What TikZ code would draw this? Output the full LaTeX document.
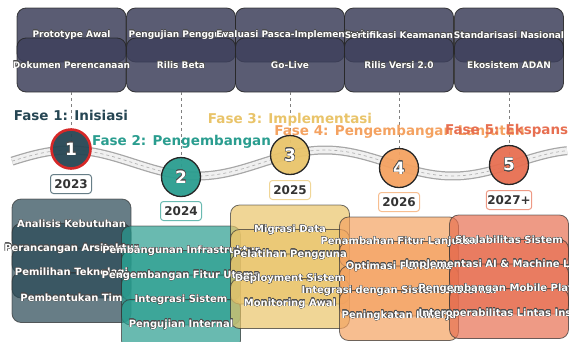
\documentclass[tikz,border=0pt]{standalone}
\usepackage{fontspec}
\setmainfont{DejaVu Sans}
\usepackage[copies]{contour}
\contourlength{0.35pt}
\contournumber{16}
\definecolor{pa}{HTML}{264653}
\definecolor{pb}{HTML}{2A9D8F}
\definecolor{pc}{HTML}{E9C46A}
\definecolor{pd}{HTML}{F4A261}
\definecolor{pe}{HTML}{E76F51}
\definecolor{topc}{HTML}{3D405B}
\definecolor{ringred}{HTML}{D62828}
\newcommand{\ow}[1]{\contour{black!70}{#1}}
\tikzset{
  topbox/.style={draw=black!85, line width=0.8pt, fill=topc, fill opacity=0.85, draw opacity=0.85, rounded corners=9pt, minimum width=109pt, minimum height=54pt, inner sep=0pt},
  toptext/.style={text=white, font=\bfseries\fontsize{9}{10}\selectfont, inner sep=0pt},
  itembox/.style={draw=black!80, line width=0.8pt, fill opacity=0.7, draw opacity=0.7, rounded corners=9pt, minimum width=119pt, minimum height=50pt, inner sep=0pt},
  itemtext/.style={text=white, font=\bfseries\fontsize{10}{12}\selectfont, inner sep=0pt},
  milestone/.style={circle, draw=black!85, line width=1.3pt, minimum size=39pt, inner sep=0pt, fill opacity=0.95, text opacity=1, text=white, font=\bfseries\fontsize{17}{18}\selectfont},
  yearbox/.style={rounded corners=3pt, fill=white, line width=1pt, minimum width=41pt, minimum height=19pt, inner sep=1pt, text=black!80, font=\bfseries\fontsize{12}{13}\selectfont},
  phaselabel/.style={inner sep=0pt, font=\bfseries\fontsize{13.5}{14}\selectfont},
  guide/.style={dashed, gray, line width=0.8pt}
}
\begin{document}
\begin{tikzpicture}[x=1pt, y=-1pt]
\useasboundingbox (0,0) rectangle (569,341);
% road
\draw[gray!70, line width=9pt] plot[domain=12:567, samples=120] (\x, {163-13*cos(((\x-70)/255)*360)});
\draw[gray!12, line width=6.5pt] plot[domain=12:567, samples=120] (\x, {163-13*cos(((\x-70)/255)*360)});
\draw[gray!60, dashed, line width=0.7pt] plot[domain=12:567, samples=120] (\x, {163-13*cos(((\x-70)/255)*360)});
% top boxes
\node[topbox] (t1a) at (71.5,35) {};
\node[topbox] (t1b) at (71.5,65) {};
\node[topbox] (t2a) at (181,35) {};
\node[topbox] (t2b) at (181,65) {};
\node[topbox] (t3a) at (290,35) {};
\node[topbox] (t3b) at (290,65) {};
\node[topbox] (t4a) at (399,35) {};
\node[topbox] (t4b) at (399,65) {};
\node[topbox] (t5a) at (509,35) {};
\node[topbox] (t5b) at (509,65) {};
\node[toptext] (x1a) at (t1a) {\ow{Prototype Awal}};
\node[toptext] (x1b) at (t1b) {\ow{Dokumen Perencanaan}};
\node[toptext] (x2a) at (t2a) {\ow{Pengujian Pengguna}};
\node[toptext] (x2b) at (t2b) {\ow{Rilis Beta}};
\node[toptext] (x3a) at (t3a) {\ow{Evaluasi Pasca-Implementasi}};
\node[toptext] (x3b) at (t3b) {\ow{Go-Live}};
\node[toptext] (x4a) at (t4a) {\ow{Sertifikasi Keamanan}};
\node[toptext] (x4b) at (t4b) {\ow{Rilis Versi 2.0}};
\node[toptext] (x5a) at (t5a) {\ow{Standarisasi Nasional}};
\node[toptext] (x5b) at (t5b) {\ow{Ekosistem ADAN}};
% milestones
\coordinate (m1) at (71,149);
\coordinate (m2) at (181,177);
\coordinate (m3) at (290,155);
\coordinate (m4) at (399,168);
\coordinate (m5) at (509,165);
\draw[guide] (t1b.south -| m1) -- (m1);
\draw[guide] (t2b.south -| m2) -- (m2);
\draw[guide] (t3b.south -| m3) -- (m3);
\draw[guide] (t4b.south -| m4) -- (m4);
\draw[guide] (t5b.south -| m5) -- (m5);
\node[milestone, fill=pa, draw=ringred, line width=2.6pt] (c1) at (m1) {\ow{1}};
\node[milestone, fill=pb] (c2) at (m2) {\ow{2}};
\node[milestone, fill=pc] (c3) at (m3) {\ow{3}};
\node[milestone, fill=pd] (c4) at (m4) {\ow{4}};
\node[milestone, fill=pe] (c5) at (m5) {\ow{5}};
% phase labels
\node[phaselabel, text=pa] (f1) at (71,115) {Fase 1: Inisiasi};
\node[phaselabel, text=pb] (f2) at (181.5,142) {Fase 2: Pengembangan};
\node[phaselabel, text=pc] (f3) at (290,120) {Fase 3: Implementasi};
\node[phaselabel, text=pd] (f4) at (399.5,132) {Fase 4: Pengembangan Lanjutan};
\node[phaselabel, text=pe] (f5) at (509,131) {Fase 5: Ekspansi};
% years
\node[yearbox, draw=pa!70] (y1) at (71,184) {2023};
\node[yearbox, draw=pb!70] (y2) at (181,211) {2024};
\node[yearbox, draw=pc!70] (y3) at (290,190) {2025};
\node[yearbox, draw=pd!70] (y4) at (399,202) {2026};
\node[yearbox, draw=pe!70] (y5) at (509,200) {2027+};
% item boxes
\node[itembox, fill=pa] (b11) at (71.5,224) {};
\node[itembox, fill=pa] (b12) at (71.5,248.5) {};
\node[itembox, fill=pa] (b13) at (71.5,273) {};
\node[itembox, fill=pa] (b14) at (71.5,297.5) {};
\node[itembox, fill=pb] (b21) at (181,251) {};
\node[itembox, fill=pb] (b22) at (181,275.5) {};
\node[itembox, fill=pb] (b23) at (181,300) {};
\node[itembox, fill=pb] (b24) at (181,324.5) {};
\node[itembox, fill=pc] (b31) at (290,230) {};
\node[itembox, fill=pc] (b32) at (290,254.5) {};
\node[itembox, fill=pc] (b33) at (290,279) {};
\node[itembox, fill=pc] (b34) at (290,303.5) {};
\node[itembox, fill=pd] (b41) at (399,242) {};
\node[itembox, fill=pd] (b42) at (399,266.5) {};
\node[itembox, fill=pd] (b43) at (399,291) {};
\node[itembox, fill=pd] (b44) at (399,315.5) {};
\node[itembox, fill=pe] (b51) at (509,240) {};
\node[itembox, fill=pe] (b52) at (509,264.5) {};
\node[itembox, fill=pe] (b53) at (509,289) {};
\node[itembox, fill=pe] (b54) at (509,313.5) {};
% item texts
\node[itemtext] (s11) at (b11) {\ow{Analisis Kebutuhan}};
\node[itemtext] (s12) at (b12) {\ow{Perancangan Arsitektur}};
\node[itemtext] (s13) at (b13) {\ow{Pemilihan Teknologi}};
\node[itemtext] (s14) at (b14) {\ow{Pembentukan Tim}};
\node[itemtext] (s21) at (b21) {\ow{Pembangunan Infrastruktur}};
\node[itemtext] (s22) at (b22) {\ow{Pengembangan Fitur Utama}};
\node[itemtext] (s23) at (b23) {\ow{Integrasi Sistem}};
\node[itemtext] (s24) at (b24) {\ow{Pengujian Internal}};
\node[itemtext] (s31) at (b31) {\ow{Migrasi Data}};
\node[itemtext] (s32) at (b32) {\ow{Pelatihan Pengguna}};
\node[itemtext] (s33) at (b33) {\ow{Deployment Sistem}};
\node[itemtext] (s34) at (b34) {\ow{Monitoring Awal}};
\node[itemtext] (s41) at (b41) {\ow{Penambahan Fitur Lanjutan}};
\node[itemtext] (s42) at (b42) {\ow{Optimasi Performa}};
\node[itemtext] (s43) at (b43) {\ow{Integrasi dengan Sistem Eksternal}};
\node[itemtext] (s44) at (b44) {\ow{Peningkatan Kinerja}};
\node[itemtext] (s51) at (b51) {\ow{Skalabilitas Sistem}};
\node[itemtext] (s52) at (b52) {\ow{Implementasi AI \& Machine Learning}};
\node[itemtext] (s53) at (b53) {\ow{Pengembangan Mobile Platform}};
\node[itemtext] (s54) at (b54) {\ow{Interoperabilitas Lintas Instansi}};
\end{tikzpicture}
\end{document}
